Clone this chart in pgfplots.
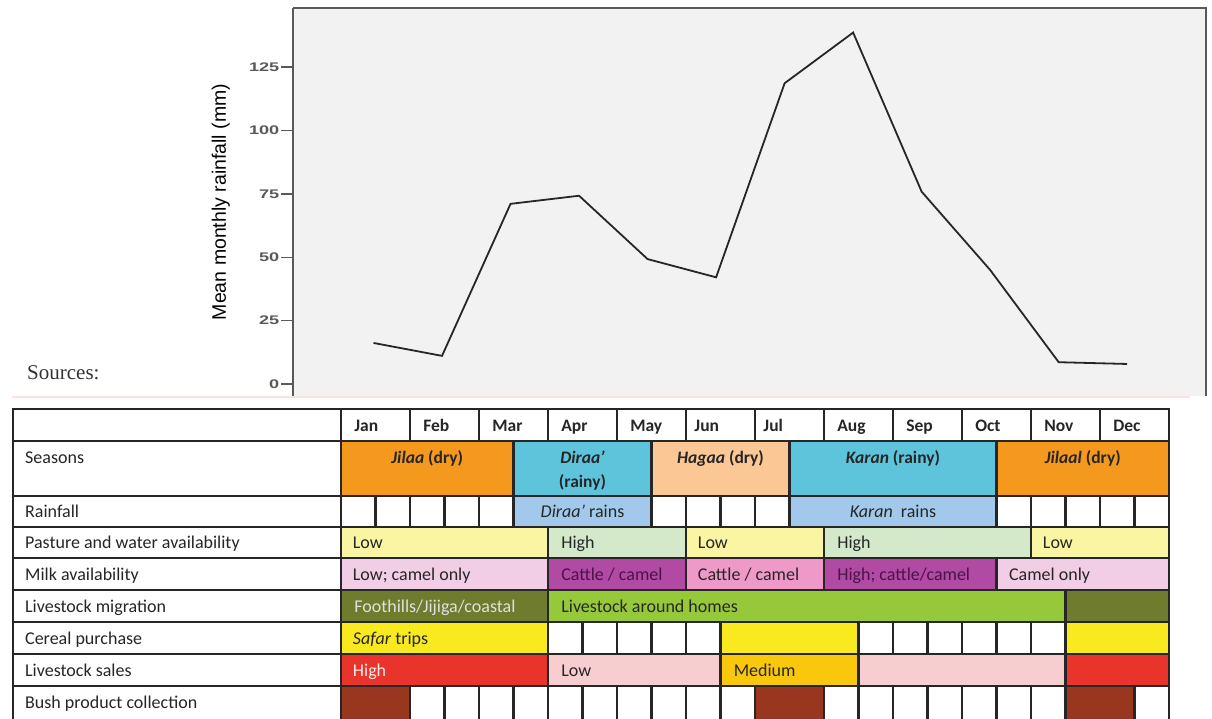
\documentclass[border=0pt]{standalone}
\usepackage{fontspec}
\setmainfont{Carlito}
\newfontfamily\arialf{Liberation Sans}
\newfontfamily\timesf{Liberation Serif}
\usepackage{pgfplots}
\pgfplotsset{compat=1.18}

\definecolor{orangeS}{HTML}{F5981E}
\definecolor{blueS}{HTML}{5EC4DC}
\definecolor{peach}{HTML}{FBC895}
\definecolor{rainblue}{HTML}{A2C8EC}
\definecolor{palyellow}{HTML}{FAF5A3}
\definecolor{palgreen}{HTML}{D4E9CA}
\definecolor{milklight}{HTML}{F1CDE6}
\definecolor{milkpurple}{HTML}{B04AA3}
\definecolor{milkpink}{HTML}{EF99C9}
\definecolor{olive}{HTML}{6F7B2D}
\definecolor{lgreen}{HTML}{96C93A}
\definecolor{yellowS}{HTML}{F8EA1E}
\definecolor{redS}{HTML}{E8342A}
\definecolor{salespink}{HTML}{F8CDD0}
\definecolor{gold}{HTML}{F9C70C}
\definecolor{brown}{HTML}{98361F}
\definecolor{darkpurple}{HTML}{4A1445}

\tikzset{
  grid/.style={draw=black!85, line width=2.2pt},
  lbl/.style={anchor=base west, font=\fontsize{18}{20}\selectfont, inner sep=0pt, text=black!85},
  hd/.style={anchor=base, font=\bfseries\fontsize{17.5}{20}\selectfont, inner sep=0pt, text=black!85},
}
% x1 x2 ytop ybottom fill
\newcommand\bx[5]{\draw[grid,fill=#5] (axis cs:#1,#3) rectangle (axis cs:#2,#4);}
% x ytop ybottom
\newcommand\vl[3]{\draw[grid] (axis cs:#1,#2) -- (axis cs:#1,#3);}

\begin{document}
\begin{tikzpicture}[x=1pt,y=1pt]
\useasboundingbox (0,0) rectangle (1212,718);
\draw[red!12, line width=1.2pt] (12,321) -- (1190,321);
\node[font=\timesf\fontsize{21}{24}\selectfont, anchor=west, inner sep=0pt, text=black!80] at (27,345) {Sources:};

\begin{axis}[
  at={(293pt,322pt)}, anchor=south west,
  width=913pt, height=388pt, scale only axis,
  xmin=-0.175, xmax=13.15, ymin=-4.74, ymax=148.4,
  axis x line=none, axis y line*=left,
  axis background/.style={fill=black!5},
  axis line style={draw=black!65, line width=1.6pt},
  xtick=\empty, ytick={0,25,50,75,100,125},
  tick align=outside, major tick length=12pt,
  ytick style={draw=black!65, line width=1.6pt},
  /pgf/number format/assume math mode=true,
  yticklabel style={font=\arialf\bfseries\fontsize{12.5}{14}\selectfont, text=black!65, xscale=1.45, inner sep=1pt},
  ylabel={Mean monthly rainfall (mm)},
  every axis y label/.style={at={(axis description cs:-0.079,0.5)}, rotate=90, anchor=center,
    font=\arialf\fontsize{19.5}{22}\selectfont, text=black},
  clip=false,
]
\addplot[black!85, line width=1.8pt, mark=none] coordinates {
  (1,16.2) (2,11.1) (3,71.1) (4,74.3) (5,49.3) (6,42.1)
  (7,118.7) (8,138.7) (9,75.9) (10,45.0) (11,8.6) (12,7.9)
};
\draw[black!65, line width=1.6pt] (rel axis cs:0,1) -- (rel axis cs:1,1) -- (rel axis cs:1,0);
\end{axis}

\begin{axis}[
  at={(0pt,0pt)}, anchor=south west,
  width=1212pt, height=311pt, scale only axis,
  xmin=-4.942, xmax=12.623, ymin=407, ymax=718, y dir=reverse,
  hide axis, clip=true,
]
% header row
\bx{-4.754}{12}{409}{441}{white}
\pgfplotsinvokeforeach{0,...,11}{\vl{#1}{409}{441}}
\node[hd,anchor=base west] at (axis cs:0.19,431) {Jan};
\node[hd,anchor=base west] at (axis cs:1.19,431) {Feb};
\node[hd,anchor=base west] at (axis cs:2.19,431) {Mar};
\node[hd,anchor=base west] at (axis cs:3.19,431) {Apr};
\node[hd,anchor=base west] at (axis cs:4.19,431) {May};
\node[hd,anchor=base west] at (axis cs:5.12,431) {Jun};
\node[hd,anchor=base west] at (axis cs:6.12,431) {Jul};
\node[hd,anchor=base west] at (axis cs:7.19,431) {Aug};
\node[hd,anchor=base west] at (axis cs:8.19,431) {Sep};
\node[hd,anchor=base west] at (axis cs:9.19,431) {Oct};
\node[hd,anchor=base west] at (axis cs:10.19,431) {Nov};
\node[hd,anchor=base west] at (axis cs:11.19,431) {Dec};

% seasons
\bx{-4.754}{0}{441}{496}{white}
\node[lbl] at (axis cs:-4.58,463) {Seasons};
\bx{0}{2.5}{441}{496}{orangeS}
\bx{2.5}{4.5}{441}{496}{blueS}
\bx{4.5}{6.5}{441}{496}{peach}
\bx{6.5}{9.5}{441}{496}{blueS}
\bx{9.5}{12}{441}{496}{orangeS}
\node[hd] at (axis cs:1.25,463) {\textit{Jilaa} (dry)};
\node[hd] at (axis cs:3.5,463) {\textit{Diraa’}};
\node[hd] at (axis cs:3.5,487) {(rainy)};
\node[hd] at (axis cs:5.5,463) {\textit{Hagaa} (dry)};
\node[hd] at (axis cs:8,463) {\textit{Karan} (rainy)};
\node[hd] at (axis cs:10.75,463) {\textit{Jilaal} (dry)};

% rainfall
\bx{-4.754}{0}{496}{527}{white}
\node[lbl] at (axis cs:-4.58,517) {Rainfall};
\bx{0}{2.5}{496}{527}{white}
\pgfplotsinvokeforeach{0.5,1,1.5,2}{\vl{#1}{496}{527}}
\bx{2.5}{4.5}{496}{527}{rainblue}
\bx{4.5}{6.5}{496}{527}{white}
\pgfplotsinvokeforeach{5,5.5,6}{\vl{#1}{496}{527}}
\bx{6.5}{9.5}{496}{527}{rainblue}
\bx{9.5}{12}{496}{527}{white}
\pgfplotsinvokeforeach{10,10.5,11,11.5}{\vl{#1}{496}{527}}
\node[lbl,anchor=base] at (axis cs:3.5,517) {\textit{Diraa’} rains};
\node[lbl,anchor=base] at (axis cs:8,517) {\textit{Karan}\ \ rains};

% pasture
\bx{-4.754}{0}{527}{558}{white}
\node[lbl] at (axis cs:-4.58,548) {Pasture and water availability};
\bx{0}{3}{527}{558}{palyellow}
\bx{3}{5}{527}{558}{palgreen}
\bx{5}{7}{527}{558}{palyellow}
\bx{7}{10}{527}{558}{palgreen}
\bx{10}{12}{527}{558}{palyellow}
\node[lbl] at (axis cs:0.17,548) {Low};
\node[lbl] at (axis cs:3.19,548) {High};
\node[lbl] at (axis cs:5.17,548) {Low};
\node[lbl] at (axis cs:7.19,548) {High};
\node[lbl] at (axis cs:10.17,548) {Low};

% milk
\bx{-4.754}{0}{558}{590}{white}
\node[lbl] at (axis cs:-4.58,580) {Milk availability};
\bx{0}{3}{558}{590}{milklight}
\bx{3}{5}{558}{590}{milkpurple}
\bx{5}{7}{558}{590}{milkpink}
\bx{7}{9.5}{558}{590}{milkpurple}
\bx{9.5}{12}{558}{590}{milklight}
\node[lbl] at (axis cs:0.17,580) {Low; camel only};
\node[lbl,text=darkpurple] at (axis cs:3.19,580) {Cattle / camel};
\node[lbl] at (axis cs:5.17,580) {Cattle / camel};
\node[lbl,text=darkpurple] at (axis cs:7.19,580) {High; cattle/camel};
\node[lbl] at (axis cs:9.68,580) {Camel only};

% migration
\bx{-4.754}{0}{590}{622}{white}
\node[lbl] at (axis cs:-4.58,612) {Livestock migration};
\bx{0}{3}{590}{622}{olive}
\bx{3}{10.5}{590}{622}{lgreen}
\bx{10.5}{12}{590}{622}{olive}
\node[lbl,text=black!12] at (axis cs:0.19,612) {Foothills/Jijiga/coastal};
\node[lbl] at (axis cs:3.19,612) {Livestock around homes};

% cereal
\bx{-4.754}{0}{622}{654}{white}
\node[lbl] at (axis cs:-4.58,644) {Cereal purchase};
\bx{0}{3}{622}{654}{yellowS}
\bx{3}{5.5}{622}{654}{white}
\pgfplotsinvokeforeach{3.5,4,4.5,5}{\vl{#1}{622}{654}}
\bx{5.5}{7.5}{622}{654}{yellowS}
\bx{7.5}{10.5}{622}{654}{white}
\pgfplotsinvokeforeach{8,8.5,9,9.5,10}{\vl{#1}{622}{654}}
\bx{10.5}{12}{622}{654}{yellowS}
\node[lbl] at (axis cs:0.17,644) {\textit{Safar} trips};

% sales
\bx{-4.754}{0}{654}{686}{white}
\node[lbl] at (axis cs:-4.58,676) {Livestock sales};
\bx{0}{3}{654}{686}{redS}
\bx{3}{5.5}{654}{686}{salespink}
\bx{5.5}{7.5}{654}{686}{gold}
\bx{7.5}{10.5}{654}{686}{salespink}
\bx{10.5}{12}{654}{686}{redS}
\node[lbl,text=red!8] at (axis cs:0.17,676) {High};
\node[lbl] at (axis cs:3.19,676) {Low};
\node[lbl] at (axis cs:5.69,676) {Medium};

% bush products
\bx{-4.754}{0}{686}{724}{white}
\node[lbl] at (axis cs:-4.58,708) {Bush product collection};
\bx{0}{1}{686}{724}{brown}
\bx{1}{6}{686}{724}{white}
\pgfplotsinvokeforeach{1.5,2,...,5.5}{\vl{#1}{686}{724}}
\bx{6}{7}{686}{724}{brown}
\bx{7}{10.5}{686}{724}{white}
\pgfplotsinvokeforeach{7.5,8,...,10}{\vl{#1}{686}{724}}
\bx{10.5}{11.5}{686}{724}{brown}
\bx{11.5}{12}{686}{724}{white}
\end{axis}
\end{tikzpicture}
\end{document}
